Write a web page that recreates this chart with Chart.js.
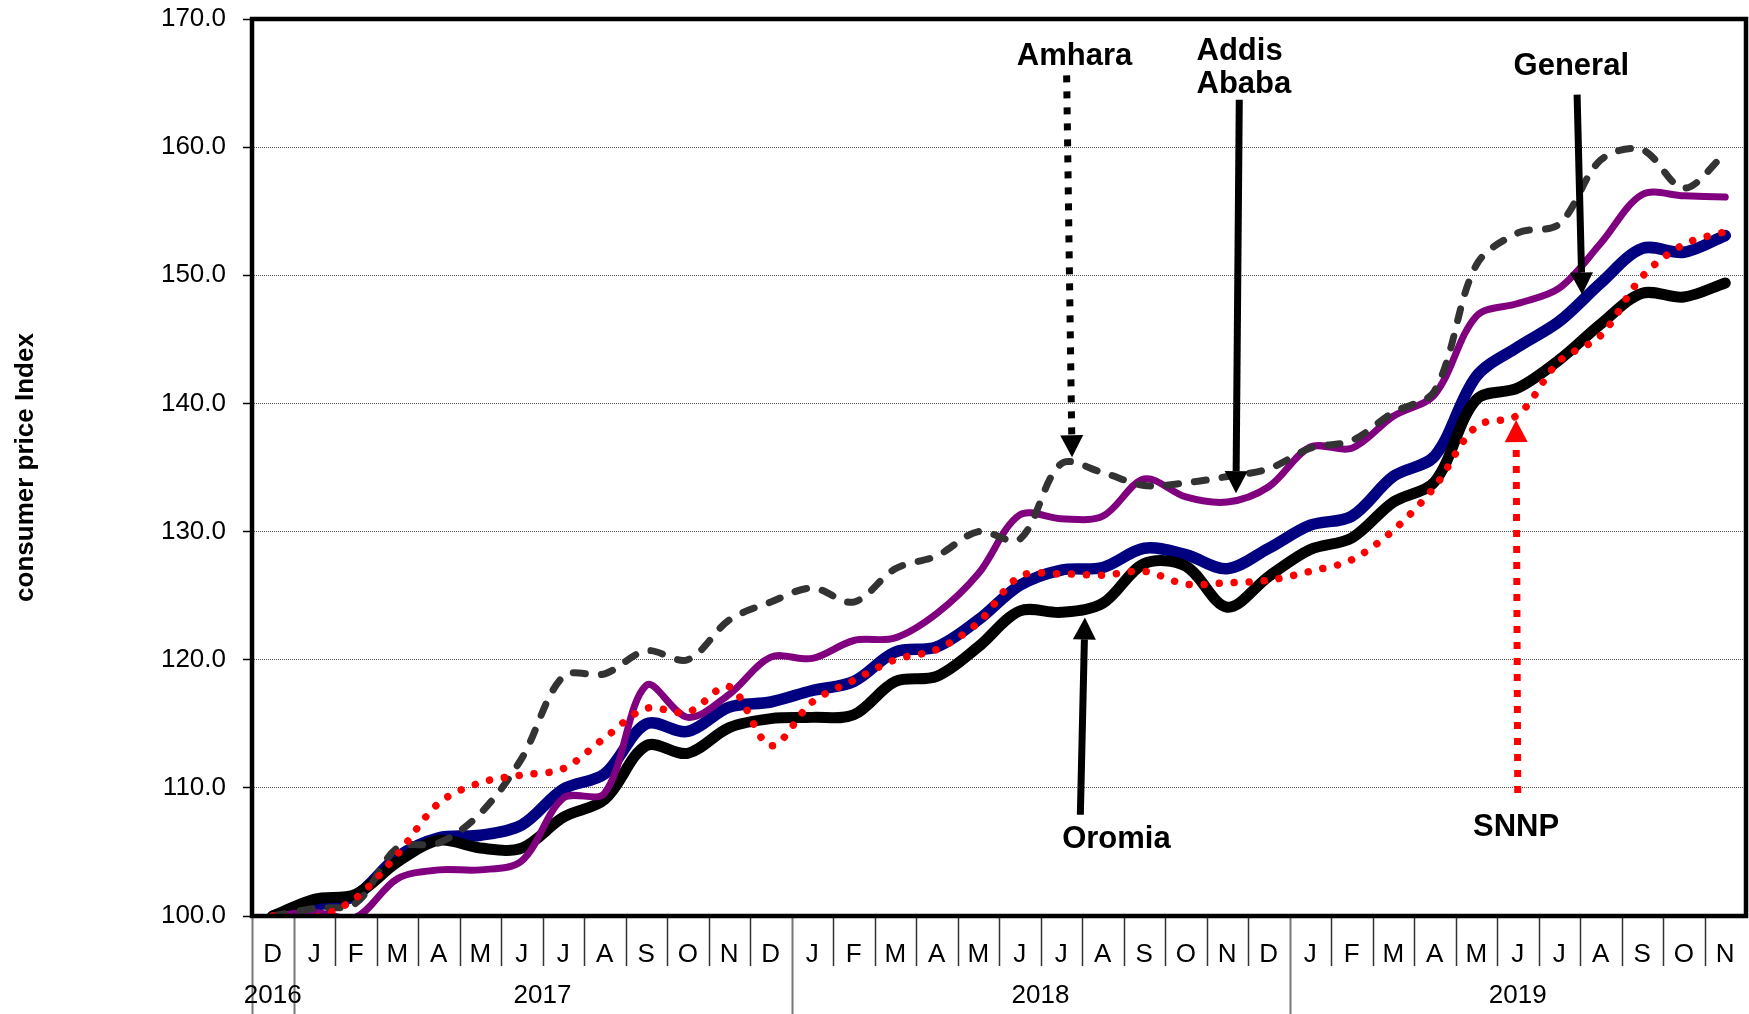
<!DOCTYPE html>
<html>
<head>
<meta charset="utf-8">
<script src="https://cdn.jsdelivr.net/npm/chart.js@4.4.1/dist/chart.umd.min.js"></script>
<style>
  html, body { margin: 0; padding: 0; background: #fff; }
  #wrap { width: 1749px; height: 1014px; }
</style>
</head>
<body>
<div id="wrap"><canvas id="mycanvas" width="1749" height="1014"></canvas></div>
<script>
// month labels, Dec 2016 .. Nov 2019
var months = ['D',
  'J','F','M','A','M','J','J','A','S','O','N','D',
  'J','F','M','A','M','J','J','A','S','O','N','D',
  'J','F','M','A','M','J','J','A','S','O','N'];

var years = ['2016', '2017', '2018', '2019'];
var yearStart = [0, 1, 13, 25];
var yearEnd = [0, 12, 24, 35];

// consumer price index, Dec 2016 = 100
var general = [100, 100.8, 101.6, 104.6, 106.1, 106.3, 107.1, 109.9, 111.1, 115.0, 114.4, 116.3,
  116.7, 117.6, 118.3, 120.6, 121.0, 123.1, 125.8, 127.0, 127.2, 128.7, 128.2, 127.1,
  128.7, 130.5, 131.2, 134.3, 135.9, 142.1, 144.4, 146.4, 149.4, 152.1, 151.8, 153.1];

var addis = [100, 100.3, 99.9, 102.9, 103.6, 103.6, 104.3, 109.2, 109.6, 118.0, 115.5, 117.3,
  120.2, 120.1, 121.5, 121.7, 123.6, 126.7, 131.3, 131.0, 131.2, 134.1, 132.7, 132.3,
  133.5, 136.6, 136.5, 139.0, 140.7, 146.8, 147.8, 149.0, 152.5, 156.3, 156.2, 156.1];

var amhara = [100, 100.6, 101.0, 105.3, 105.7, 108.0, 112.3, 118.7, 118.9, 120.7, 120.0, 123.1,
  124.5, 125.6, 124.5, 127.1, 128.1, 130.0, 129.4, 135.3, 134.6, 133.6, 133.8, 134.3,
  134.9, 136.5, 137.1, 139.3, 141.0, 150.8, 153.3, 154.0, 159.0, 159.8, 156.8, 159.5];

var oromia = [100, 101.3, 101.7, 104.2, 105.9, 105.3, 105.3, 107.7, 109.1, 113.3, 112.7, 114.7,
  115.4, 115.5, 115.7, 118.3, 118.7, 121.0, 123.8, 123.7, 124.4, 127.5, 127.3, 124.1,
  126.5, 128.6, 129.5, 132.3, 133.9, 140.3, 141.2, 143.4, 146.2, 148.6, 148.3, 149.4];

var snnp = [100, 99.9, 101.4, 104.8, 108.8, 110.4, 111.0, 111.5, 113.9, 116.2, 115.9, 117.9,
  113.3, 116.7, 118.4, 120.0, 120.8, 122.9, 126.5, 126.7, 126.6, 126.9, 125.9, 126.0,
  126.2, 126.9, 127.8, 130.1, 133.5, 138.2, 139.1, 143.3, 145.3, 149.9, 152.4, 153.4];

// callouts, positions in (month index, index value)
var notes = [
  {text: ['Amhara'], x: 19.32, y: 167.1, align: 'center', from: [19.13, 165.6], to: [19.26, 135.8], color: '#000', dotted: true},
  {text: ['Addis', 'Ababa'], x: 22.26, y: 167.5, align: 'left', from: [23.29, 163.7], to: [23.21, 133.0], color: '#000', dotted: false},
  {text: ['General'], x: 31.29, y: 166.3, align: 'center', from: [31.43, 164.1], to: [31.55, 148.5], color: '#000', dotted: false},
  {text: ['Oromia'], x: 20.33, y: 106.0, align: 'center', from: [19.46, 107.9], to: [19.57, 123.3], color: '#000', dotted: false},
  {text: ['SNNP'], x: 29.96, y: 106.9, align: 'center', from: [30.0, 109.6], to: [29.96, 138.7], color: '#ff0000', dotted: true}
];

var FONT = '"Liberation Sans", Arial, sans-serif';
Chart.defaults.font.family = FONT;
Chart.defaults.color = '#000';

function arrow(ctx, x1, y1, x2, y2, color, dotted) {
  var ang = Math.atan2(y2 - y1, x2 - x1), head = 22, half = 11.5;
  var bx = x2 - head * Math.cos(ang), by = y2 - head * Math.sin(ang);
  ctx.save();
  ctx.strokeStyle = color;
  ctx.fillStyle = color;
  ctx.lineWidth = 7;
  ctx.setLineDash(dotted ? [7, 9] : []);
  ctx.beginPath();
  ctx.moveTo(x1, y1);
  ctx.lineTo(bx, by);
  ctx.stroke();
  ctx.setLineDash([]);
  ctx.beginPath();
  ctx.moveTo(x2, y2);
  ctx.lineTo(bx + half * Math.sin(ang), by - half * Math.cos(ang));
  ctx.lineTo(bx - half * Math.sin(ang), by + half * Math.cos(ang));
  ctx.closePath();
  ctx.fill();
  ctx.restore();
}

var overlay = {
  id: 'overlay',
  afterDraw: function(chart) {
    var ctx = chart.ctx, area = chart.chartArea;
    var xs = chart.scales.x, ys = chart.scales.y;
    var step = xs.getPixelForValue(1) - xs.getPixelForValue(0);
    ctx.save();

    // month / year separators under the axis
    for (var k = 0; k < months.length; k++) {
      var bx = Math.round(xs.getPixelForValue(k) - step / 2) + 0.5;
      var isYear = yearStart.indexOf(k) >= 0;
      ctx.beginPath();
      ctx.strokeStyle = isYear ? '#777' : '#333';
      ctx.lineWidth = isYear ? 2 : 1.5;
      ctx.moveTo(bx, area.bottom);
      ctx.lineTo(bx, isYear ? chart.height : area.bottom + 50);
      ctx.stroke();
    }

    ctx.fillStyle = '#000';
    ctx.font = '26px ' + FONT;
    ctx.textAlign = 'center';
    ctx.textBaseline = 'middle';
    for (var j = 0; j < years.length; j++) {
      var cx = (xs.getPixelForValue(yearStart[j]) + xs.getPixelForValue(yearEnd[j])) / 2;
      ctx.fillText(years[j], cx, area.bottom + 80);
    }

    // plot frame
    ctx.lineWidth = 4.5;
    ctx.strokeStyle = '#000';
    ctx.strokeRect(area.left, area.top, area.right - area.left, area.bottom - area.top);

    // callouts
    ctx.font = 'bold 31px ' + FONT;
    notes.forEach(function(n) {
      ctx.fillStyle = '#000';
      ctx.textAlign = n.align;
      for (var i = 0; i < n.text.length; i++) {
        ctx.fillText(n.text[i], xs.getPixelForValue(n.x), ys.getPixelForValue(n.y) + i * 33);
      }
      arrow(ctx, xs.getPixelForValue(n.from[0]), ys.getPixelForValue(n.from[1]),
            xs.getPixelForValue(n.to[0]), ys.getPixelForValue(n.to[1]), n.color, n.dotted);
    });
    ctx.restore();
  }
};

var lineBase = {fill: false, pointRadius: 0, pointHoverRadius: 0, tension: 0.33,
  borderJoinStyle: 'round', borderCapStyle: 'round'};

var chartdata = {
  labels: months,
  datasets: [
    Object.assign({label: 'SNNP', data: snnp, borderColor: '#ff0000', borderWidth: 7.5,
      borderDash: [0.01, 15], order: 1}, lineBase),
    Object.assign({label: 'Amhara', data: amhara, borderColor: '#333333', borderWidth: 7,
      borderDash: [12, 16], order: 2}, lineBase),
    Object.assign({label: 'Addis Ababa', data: addis, borderColor: '#800080', borderWidth: 7,
      order: 3}, lineBase),
    Object.assign({label: 'Oromia', data: oromia, borderColor: '#000000', borderWidth: 11,
      order: 4}, lineBase),
    Object.assign({label: 'General', data: general, borderColor: '#000080', borderWidth: 11.5,
      order: 5}, lineBase)
  ]
};

var ctx = document.getElementById('mycanvas');

var LineGraph = new Chart(ctx, {
  type: 'line',
  data: chartdata,
  plugins: [overlay],
  options: {
    responsive: false,
    animation: false,
    devicePixelRatio: 1,
    layout: {padding: {top: 19, right: 3, left: 0, bottom: 0}},
    plugins: {legend: {display: false}, tooltip: {enabled: false}},
    scales: {
      x: {
        type: 'category',
        offset: true,
        grid: {display: false},
        border: {display: false},
        ticks: {font: {size: 26}, color: '#000', padding: 15, maxRotation: 0, autoSkip: false},
        afterFit: function(scale) {
          scale.height = 98;
          scale.paddingLeft = 0;
          scale.paddingRight = 0;
        }
      },
      y: {
        min: 100,
        max: 170,
        ticks: {
          stepSize: 10,
          font: {size: 26},
          color: '#000',
          padding: 17,
          callback: function(v) { return v.toFixed(1); }
        },
        grid: {color: '#555', lineWidth: 1, drawTicks: true, tickLength: 9, tickColor: '#000', tickWidth: 1.5},
        border: {display: false, dash: [1, 1]},
        title: {display: true, text: 'consumer price Index', font: {size: 26, weight: 'bold'}, color: '#000',
          padding: {top: 10, bottom: 0}},
        afterFit: function(scale) {
          scale.width = 252;
          scale.paddingTop = 0;
          scale.paddingBottom = 0;
        }
      }
    }
  }
});
</script>
</body>
</html>
